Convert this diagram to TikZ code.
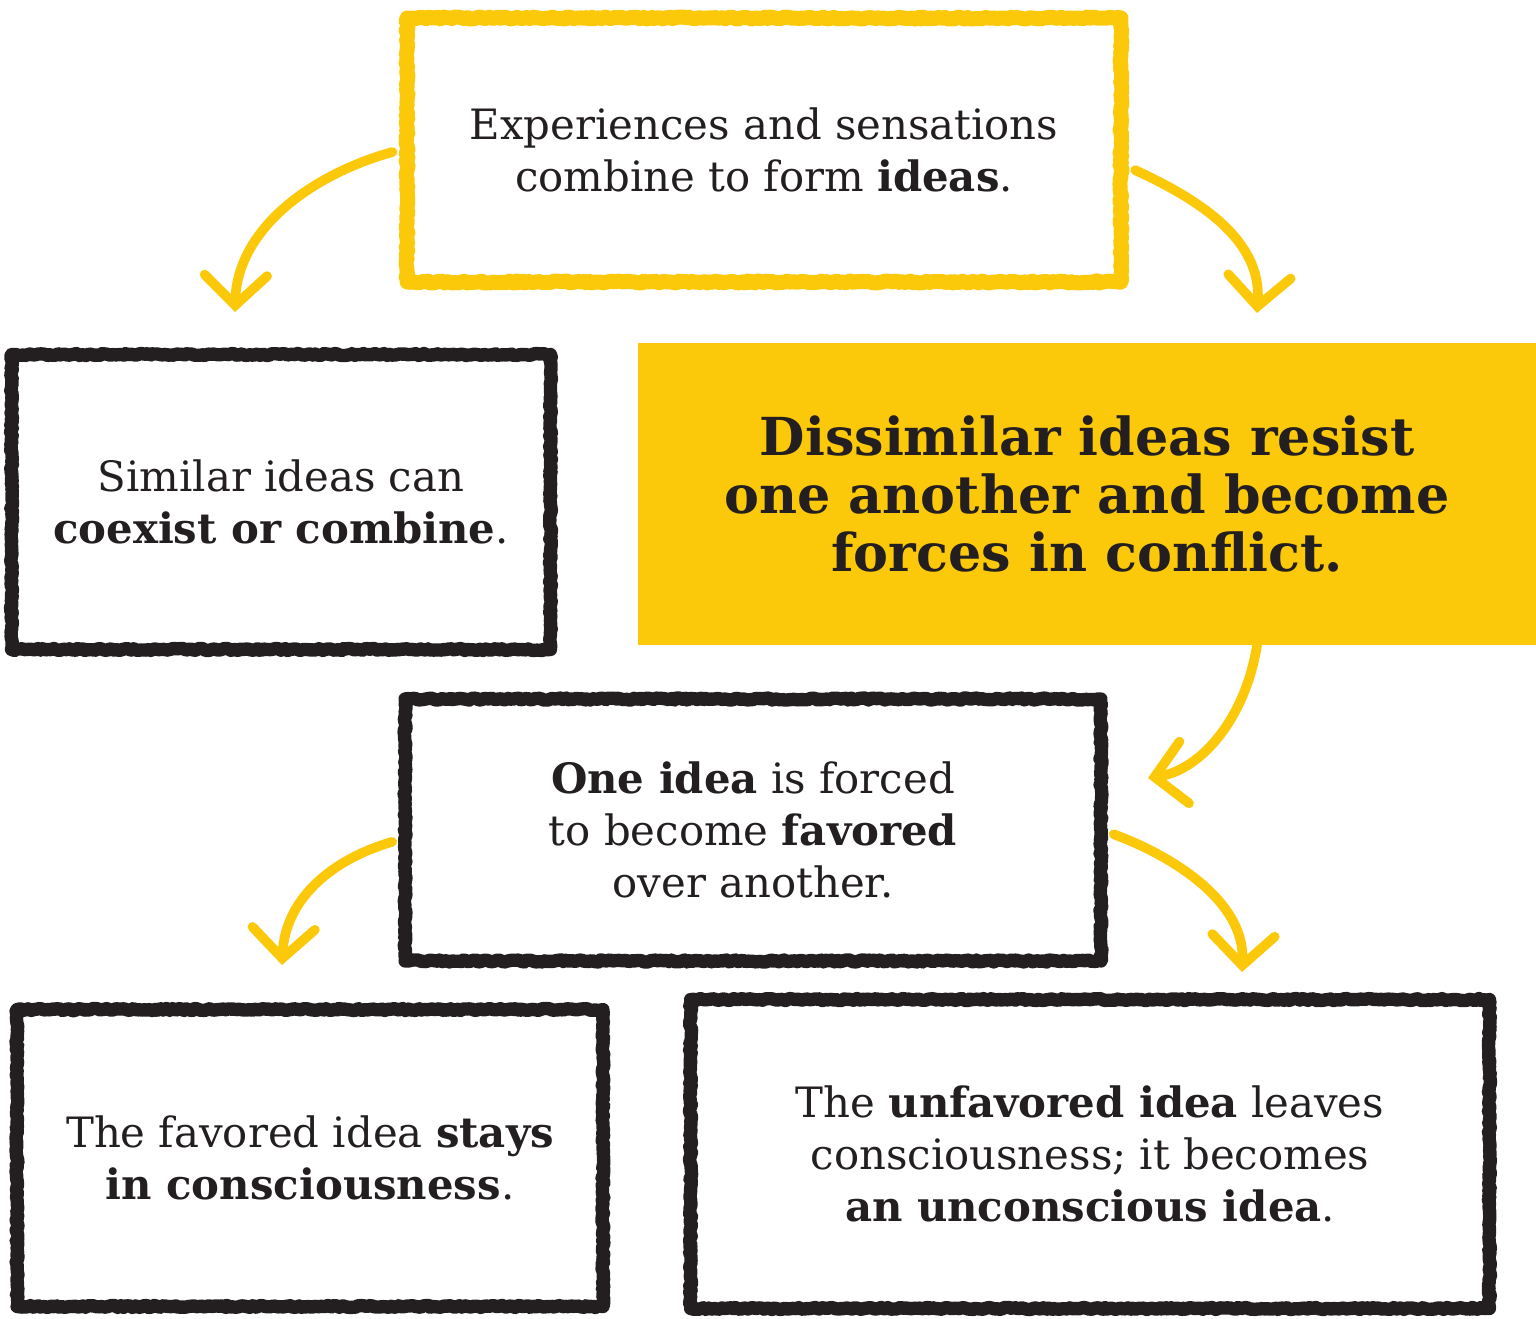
\documentclass[tikz,border=0pt]{standalone}
\usepackage{fontspec}
\setmainfont{DejaVu Serif}
\usetikzlibrary{arrows.meta, calc, decorations.pathmorphing}
\definecolor{crayon}{RGB}{252,200,10}
\definecolor{ink}{RGB}{35,31,32}

\begin{document}
\begin{tikzpicture}[
        x=0.02cm, y=-0.02cm,
        txt/.style={align=center, inner sep=0pt, text=ink, font=\fontsize{23.8}{29.5}\selectfont},
        roughbox/.style={txt, rectangle, draw=ink, line width=7.6pt, line join=round, decorate, decoration={random steps, segment length=1.5pt, amplitude=0.6pt}},
        yellowbox/.style={roughbox, draw=crayon, line width=8.5pt},
        keybox/.style={txt, rectangle, fill=crayon, font=\bfseries\fontsize{29.8}{33}\selectfont},
        flow/.style={draw=crayon, line width=5.5pt, line cap=round, -{Straight Barb[length=0.6cm, width=1.25cm, line cap=round]}}
    ]
        \useasboundingbox (0,0) rectangle (1536,1319);

        \node[yellowbox, minimum width=14.28cm, minimum height=5.28cm] (ideas) at (764,150) {Experiences and sensations\\combine to form \textbf{ideas}.};
        \node[roughbox, minimum width=10.78cm, minimum height=5.9cm] (similar) at (281,502) {Similar ideas can\\\textbf{coexist or combine}.};
        \node[keybox, minimum width=17.96cm, minimum height=6.04cm] (dissimilar) at (1087,494) {Dissimilar ideas resist\\one another and become\\forces in conflict.};
        \node[roughbox, minimum width=13.92cm, minimum height=5.24cm] (oneidea) at (753,830) {\textbf{One idea} is forced\\to become \textbf{favored}\\over another.};
        \node[roughbox, minimum width=11.72cm, minimum height=5.94cm] (favored) at (310,1158) {The favored idea \textbf{stays}\\\textbf{in consciousness}.};
        \node[roughbox, minimum width=15.98cm, minimum height=6.18cm] (unfavored) at (1090,1154) {The \textbf{unfavored idea} leaves\\consciousness; it becomes\\\textbf{an unconscious idea}.};

        % arrow tips
        \coordinate (tipsimilar) at (235,312);
        \coordinate (tipdissimilar) at (1257,313);
        \coordinate (tiponeidea) at (1148,778);
        \coordinate (tipfavored) at (282,965);
        \coordinate (tipunfavored) at (1242,972);

        \draw[flow, shorten <=0.15cm] (ideas.west) .. controls (310,175) and (237,230) .. (tipsimilar);
        \draw[flow, shorten <=0.15cm] ($(ideas.east)+(0,17)$) .. controls (1200,200) and (1262,240) .. (tipdissimilar);
        \draw[flow] ($(dissimilar.south)+(170,0)$) .. controls (1245,720) and (1200,770) .. (tiponeidea);
        \draw[flow, shorten <=0.13cm] ($(oneidea.west)+(0,10)$) .. controls (330,860) and (285,900) .. (tipfavored);
        \draw[flow, shorten <=0.13cm] ($(oneidea.east)+(0,2)$) .. controls (1170,855) and (1245,900) .. (tipunfavored);
    \end{tikzpicture}
\end{document}
